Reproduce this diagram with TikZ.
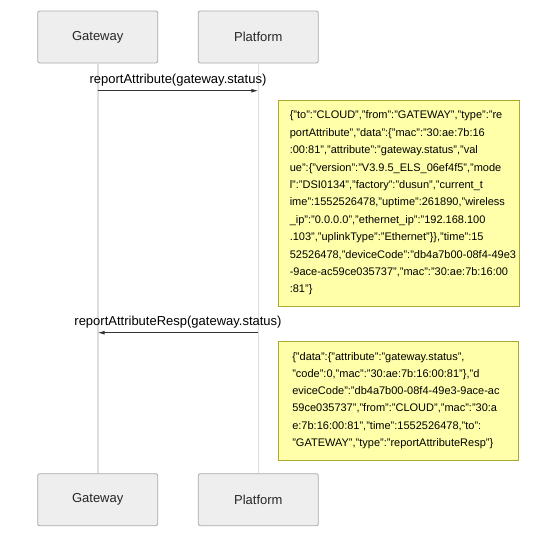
\documentclass[tikz,border=0pt]{standalone}
\usepackage{fontspec}
\setmainfont{Liberation Sans}
\usetikzlibrary{arrows.meta}
\definecolor{boxfill}{HTML}{EEEEEE}
\definecolor{boxdraw}{HTML}{AAAAAA}
\definecolor{notefill}{HTML}{FFFFAA}
\definecolor{notedraw}{HTML}{AAAA33}
\definecolor{lifeline}{HTML}{DDDDDD}
\definecolor{msg}{HTML}{333333}
\exhyphenpenalty=10000
\hyphenpenalty=10000
\begin{document}
\begin{tikzpicture}[x=1pt,y=-1pt,
  actor/.style={draw=boxdraw,fill=boxfill,rounded corners=2pt,line width=0.8pt,
    minimum width=120pt,minimum height=52pt,inner sep=0pt,
    font=\fontsize{13}{15}\selectfont,text=black!85},
  life/.style={draw=lifeline,line width=1.6pt},
  message/.style={draw=msg,line width=1pt,-{Latex[length=7pt,width=4pt]}},
  msglabel/.style={font=\fontsize{13}{15}\selectfont,text=black},
  note/.style={draw=notedraw,fill=notefill,line width=0.9pt,inner sep=0pt,align=left,
    text=black}
]
\useasboundingbox (0,0) rectangle (540,539);
% actors
\node[actor] (gtop) at (97.7,37) {Gateway};
\node[actor] (ptop) at (258.3,37) {Platform};
\node[actor] (gbot) at (97.7,499.7) {Gateway};
\node[actor] (pbot) at (258.3,499.7) {Platform};
% lifelines
\draw[life] (gtop.south) -- (gbot.north);
\draw[life] (ptop.south) -- (pbot.north);
% message anchors
\coordinate (m1s) at (97.7,90.7);
\coordinate (m1e) at (258.3,90.7);
\coordinate (m2s) at (258.3,332.7);
\coordinate (m2e) at (97.7,332.7);
\draw[message] (m1s) -- (m1e) node[msglabel,midway,above=1pt] (l1) {reportAttribute(gateway.status)};
\draw[message] (m2s) -- (m2e) node[msglabel,midway,above=1pt] (l2) {reportAttributeResp(gateway.status)};
% notes
\node[note,minimum width=241pt,minimum height=206pt,text width=218pt,
  font=\fontsize{11}{17.4}\selectfont] (n1) at (398.8,203) {%
\{"to":"CLOUD","from":"GATEWAY","type":"re\\
portAttribute","data":\{"mac":"30:ae:7b:16\\
:00:81","attribute":"gateway.status","val\\
ue":\{"version":"V3.9.5\_ELS\_06ef4f5","mode\\
l":"DSI0134","factory":"dusun","current\_t\\
ime":1552526478,"uptime":261890,"wireless\\
\_ip":"0.0.0.0","ethernet\_ip":"192.168.100\\
.103","uplinkType":"Ethernet"\}\},"time":15\\
52526478,"deviceCode":"db4a7b00-08f4-49e3\\
-9ace-ac59ce035737","mac":"30:ae:7b:16:00\\
:81"\}};
\node[note,minimum width=240pt,minimum height=119pt,text width=212pt,
  font=\fontsize{11}{17.2}\selectfont] (n2) at (398.3,400.5) {%
\{"data":\{"attribute":"gateway.status",\\
"code":0,"mac":"30:ae:7b:16:00:81"\},"d\\
eviceCode":"db4a7b00-08f4-49e3-9ace-ac\\
59ce035737","from":"CLOUD","mac":"30:a\\
e:7b:16:00:81","time":1552526478,"to":\\
"GATEWAY","type":"reportAttributeResp"\}};
\end{tikzpicture}
\end{document}
